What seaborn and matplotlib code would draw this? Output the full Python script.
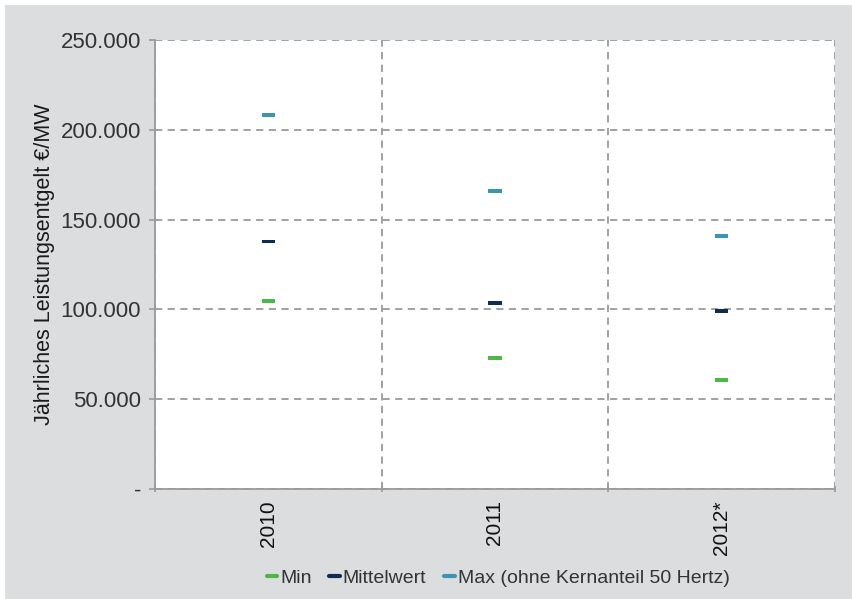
import matplotlib
matplotlib.use("Agg")
import matplotlib.pyplot as plt
import matplotlib.patches as mpatches
from matplotlib.lines import Line2D
import seaborn as sns
import pandas as pd

years = ["2010", "2011", "2012*"]
series_names = ["Min", "Mittelwert", "Max (ohne Kernanteil 50 Hertz)"]
min_vals = [104500, 72800, 60500]
mean_vals = [137800, 103300, 98900]
max_vals = [208300, 166100, 141100]
colors = ["#4cb848", "#0d2c54", "#3a95b5"]
y_ticks = [0, 50000, 100000, 150000, 200000, 250000]
y_tick_labels = ["-", "50.000", "100.000", "150.000", "200.000", "250.000"]

rows = []
for name, vals in zip(series_names, [min_vals, mean_vals, max_vals]):
    for y, v in zip(years, vals):
        rows.append({"Jahr": y, "Serie": name, "Wert": v})
df = pd.DataFrame(rows)

sns.set_theme(style="white")
plt.rcParams["font.family"] = ["Liberation Sans Narrow", "Liberation Sans", "DejaVu Sans"]

fig = plt.figure(figsize=(8.53, 5.99), dpi=100)
fig.patch.set_facecolor("white")
fig.add_artist(mpatches.Rectangle((5 / 853, 0), 1, 1 - 5 / 599, transform=fig.transFigure,
                                  facecolor="#dcdddf", edgecolor="none", zorder=-10))
ax = fig.add_axes([155 / 853, 1 - 489 / 599, 680 / 853, 449 / 599])
ax.set_facecolor("white")

bar_marker = [(-1, -0.3), (1, -0.3), (1, 0.3), (-1, 0.3), (-1, -0.3)]
sns.scatterplot(data=df, x="Jahr", y="Wert", hue="Serie", palette=colors,
                marker=bar_marker, s=90, linewidth=0, legend=False, ax=ax, zorder=5)

ax.set_xlim(-0.5, 2.5)
ax.set_ylim(0, 250000)
ax.set_yticks(y_ticks)
ax.set_yticklabels(y_tick_labels)
ax.set_xticks([0, 1, 2])
ax.set_xticklabels(years, rotation=90)
ax.set_xticks([-0.5, 0.5, 1.5, 2.5], minor=True)

grid_kw = dict(color="#9a9a9a", linestyle=(0, (4, 3)), linewidth=1.3)
ax.yaxis.grid(True, which="major", **grid_kw)
ax.xaxis.grid(True, which="minor", **grid_kw)
ax.xaxis.grid(False, which="major")
ax.set_axisbelow(True)

for s in ["left", "bottom"]:
    ax.spines[s].set_color("#9a9a9a")
    ax.spines[s].set_linewidth(1.3)
for s in ["top", "right"]:
    ax.spines[s].set_visible(False)

ax.tick_params(axis="y", which="major", left=True, length=4, width=1.2, color="#9a9a9a",
               labelsize=16, labelcolor="#333333", pad=6)
ax.tick_params(axis="x", which="major", bottom=False, labelsize=15, labelcolor="#111111", pad=2)
ax.tick_params(axis="x", which="minor", bottom=True, length=4, width=1.2, color="#9a9a9a",
               direction="inout")

ax.set_xlabel("")
ax.set_ylabel("Jährliches Leistungsentgelt €/MW", fontsize=15.5, color="#1a1a1a", labelpad=4)

handles = [Line2D([0], [0], color=c, linewidth=3) for c in colors]
fig.legend(handles, series_names, loc="center", bbox_to_anchor=(498 / 853, 1 - 578 / 599),
           ncol=3, frameon=False, fontsize=14, handlelength=0.55, handletextpad=0.15,
           columnspacing=0.9, labelcolor="#333333")

fig.savefig("out.png", dpi=100, facecolor=fig.get_facecolor())
